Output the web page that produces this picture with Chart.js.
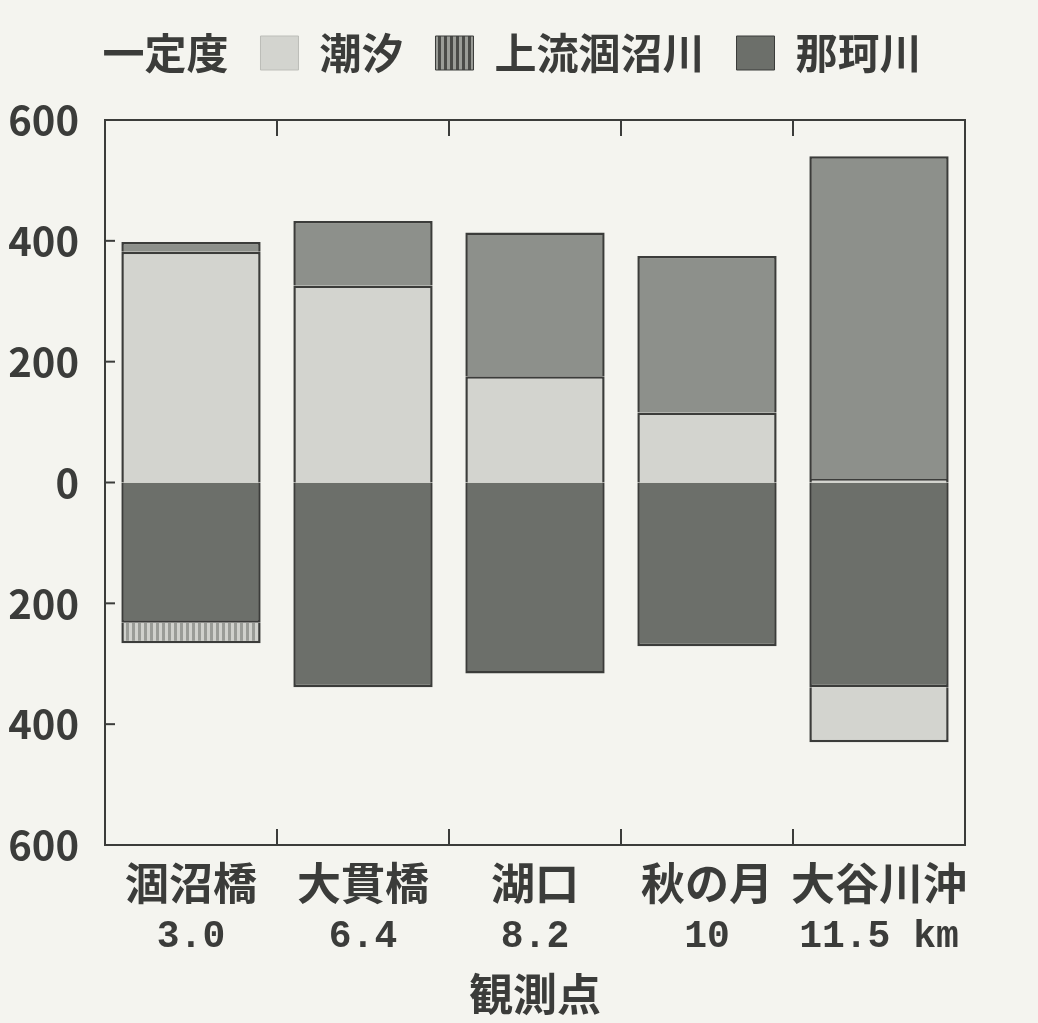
<!DOCTYPE html>
<html>
<head>
<meta charset="utf-8">
<script src="https://cdn.jsdelivr.net/npm/chart.js@4/dist/chart.umd.min.js"></script>
<style>
  html,body{margin:0;padding:0;background:#f4f4ef;}
  #wrap{width:1038px;height:1023px;}
</style>
</head>
<body>
<div id="wrap"><canvas id="c" width="1038" height="1023"></canvas></div>
<script>
// ---- data ----
const stations  = ["涸沼橋", "大貫橋", "湖口", "秋の月", "大谷川沖"];
const distances = ["3.0", "6.4", "8.2", "10", "11.5 km"];

// upward part of each bar
const tideUp    = [382, 326, 176, 116, 6];
const nakaUp    = [16, 107, 238, 259, 534];
// downward part of each bar
const nakaDown  = [-232, -339, -316, -271, -339];
const upperDown = [-34, 0, 0, 0, 0];
const tideDown  = [0, 0, 0, 0, -91];

const legendNames = ["一定度", "潮汐", "上流涸沼川", "那珂川"];
const yTicks = [-600, -400, -200, 0, 200, 400, 600];

// ---- colours / patterns ----
const INK = "#3b3c3a";
const cTide  = "#d3d4cf";
const cNaka  = "#8d908b";
const cNakaD = "#6c6f6a";

function stripes(a, b, w){
  const p = document.createElement("canvas");
  p.width = w * 2; p.height = 4;
  const g = p.getContext("2d");
  g.fillStyle = a; g.fillRect(0, 0, w, 4);
  g.fillStyle = b; g.fillRect(w, 0, w, 4);
  return g.createPattern(p, "repeat");
}
const ctx = document.getElementById("c").getContext("2d");
const upperFill   = stripes("#9a9c97", "#d0d1cc", 3);
const upperLegend = stripes("#4a4b48", "#9a9c97", 3);

Chart.defaults.font.family = "'Noto Sans CJK JP', 'Noto Sans', sans-serif";
Chart.defaults.font.weight = "bold";
Chart.defaults.color = INK;

const bar = (label, data, bg) => ({
  label, data, backgroundColor: bg,
  borderColor: INK, borderWidth: 2.5,
  barPercentage: 0.81, categoryPercentage: 1.0, stack: "s"
});

// frame + inward ticks
const framePlugin = {
  id: "frame",
  afterDraw(chart){
    const {ctx, chartArea: a, scales} = chart;
    ctx.save();
    ctx.strokeStyle = INK;
    ctx.lineWidth = 2;
    ctx.strokeRect(a.left, a.top, a.right - a.left, a.bottom - a.top);
    const x = scales.x;
    for (let i = 0; i < stations.length - 1; i++) {
      const px = (x.getPixelForValue(i) + x.getPixelForValue(i + 1)) / 2;
      ctx.beginPath();
      ctx.moveTo(px, a.top); ctx.lineTo(px, a.top + 16);
      ctx.moveTo(px, a.bottom); ctx.lineTo(px, a.bottom - 16);
      ctx.stroke();
    }
    const y = scales.y;
    yTicks.slice(1, -1).forEach(v => {
      const py = y.getPixelForValue(v);
      ctx.beginPath();
      ctx.moveTo(a.left, py); ctx.lineTo(a.left + 10, py);
      ctx.stroke();
    });
    ctx.restore();
  }
};

const legendHeight = {
  id: "legendHeight",
  beforeInit(chart){
    const fit = chart.legend.fit;
    chart.legend.fit = function(){ fit.bind(chart.legend)(); this.height = 120; };
  }
};

new Chart(ctx, {
  type: "bar",
  data: {
    labels: stations,
    datasets: [
      bar("潮汐", tideUp, cTide),
      bar("那珂川", nakaUp, cNaka),
      bar("那珂川", nakaDown, cNakaD),
      bar("上流涸沼川", upperDown, upperFill),
      bar("潮汐", tideDown, cTide)
    ]
  },
  options: {
    responsive: false,
    animation: false,
    layout: { padding: { left: 0, right: 73, top: 0, bottom: 0 } },
    plugins: {
      tooltip: { enabled: false },
      legend: {
        position: "top",
        labels: {
          font: { size: 42, weight: "bold" },
          boxWidth: 38, boxHeight: 34, padding: 32,
          generateLabels: () => [
            { text: legendNames[0], fillStyle: "rgba(0,0,0,0)", strokeStyle: "rgba(0,0,0,0)", lineWidth: 0, fontColor: INK },
            { text: legendNames[1], fillStyle: cTide, strokeStyle: "#bdbeb9", lineWidth: 1, fontColor: INK },
            { text: legendNames[2], fillStyle: upperLegend, strokeStyle: INK, lineWidth: 1, fontColor: INK },
            { text: legendNames[3], fillStyle: cNakaD, strokeStyle: INK, lineWidth: 1, fontColor: INK }
          ]
        }
      }
    },
    scales: {
      x: {
        stacked: true,
        grid: { display: false },
        border: { display: false },
        ticks: { font: { size: 44, weight: "bold" }, padding: 4, maxRotation: 0, autoSkip: false },
        afterFit: s => { s.height = 62; }
      },
      x2: {
        type: "category",
        labels: distances,
        position: "bottom",
        grid: { display: false },
        border: { display: false },
        ticks: { font: { family: "'Liberation Mono', 'DejaVu Sans Mono', monospace", size: 38, weight: "bold" }, padding: 0, maxRotation: 0, autoSkip: false },
        title: { display: true, text: "観測点", font: { size: 44, weight: "bold" }, padding: { top: 0, bottom: 2 } },
        afterFit: s => { s.height = 116; }
      },
      y: {
        stacked: true,
        min: -600, max: 600,
        afterBuildTicks: s => { s.ticks = yTicks.map(v => ({ value: v })); },
        grid: { display: false },
        border: { display: false },
        ticks: {
          font: { size: 40, weight: "bold" },
          padding: 18,
          callback: v => String(Math.abs(v))
        },
        afterFit: s => { s.width = 105; }
      }
    }
  },
  plugins: [framePlugin, legendHeight]
});
</script>
</body>
</html>
